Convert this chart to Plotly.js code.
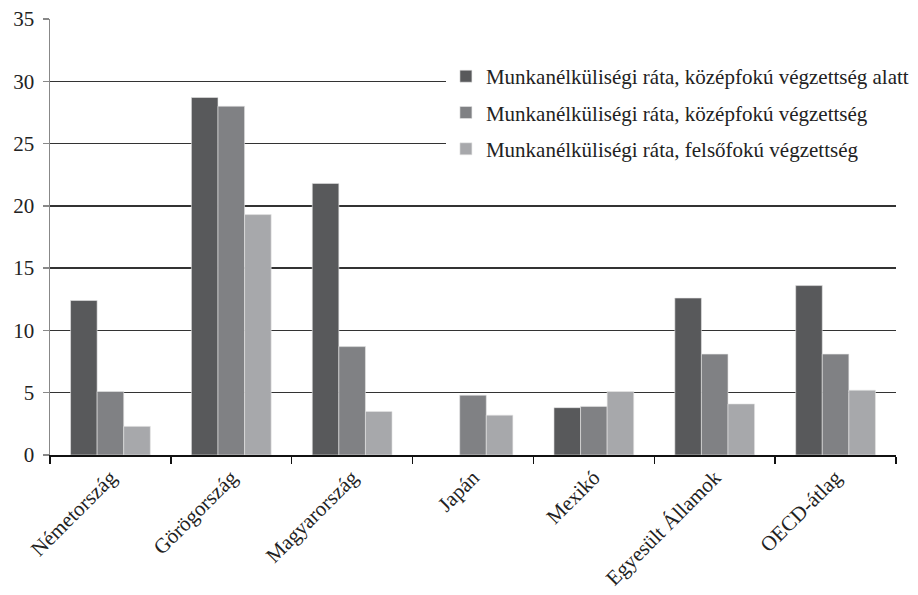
<!DOCTYPE html>
<html>
<head>
<meta charset="utf-8">
<script src="https://cdn.plot.ly/plotly-3.0.1.min.js"></script>
<style>
  html, body { margin: 0; padding: 0; background: #fff; }
  #chart { width: 918px; height: 595px; }
</style>
</head>
<body>
<div id="chart"></div>
<script>
// Országok (kategóriák)
const countries = ['Németország', 'Görögország', 'Magyarország', 'Japán', 'Mexikó', 'Egyesült Államok', 'OECD-átlag'];

// Munkanélküliségi ráták (%) végzettség szerint
const belowSecondary = [12.4, 28.7, 21.8, null, 3.8, 12.6, 13.6];
const secondary      = [5.1, 28.0, 8.7, 4.8, 3.9, 8.1, 8.1];
const tertiary       = [2.3, 19.3, 3.5, 3.2, 5.1, 4.1, 5.2];

const seriesNames = [
  'Munkanélküliségi ráta, középfokú végzettség alatt',
  'Munkanélküliségi ráta, középfokú végzettség',
  'Munkanélküliségi ráta, felsőfokú végzettség'
];

const yTicks = [0, 5, 10, 15, 20, 25, 30, 35];

const FONT = 'Liberation Serif';
const colors = ['#58595b', '#808184', '#a7a8ab'];
const values = [belowSecondary, secondary, tertiary];

const traces = values.map((v, i) => ({
  type: 'bar',
  name: seriesNames[i],
  x: countries,
  y: v,
  legendgroup: 'g' + i,
  marker: { color: colors[i], line: { color: 'rgba(230,230,230,0.6)', width: 1 } },
  hoverinfo: 'x+y'
}));

const layout = {
  width: 918,
  height: 595,
  margin: { l: 50, r: 4, t: 19, b: 140 },
  paper_bgcolor: '#ffffff',
  plot_bgcolor: '#ffffff',
  font: { family: FONT, size: 21, color: '#222' },
  barmode: 'group',
  bargap: 0.34,
  bargroupgap: 0,
  showlegend: true,
  legend: {
    x: 0.468, xanchor: 'left',
    y: 0.915, yanchor: 'top',
    bgcolor: '#ffffff',
    borderwidth: 0,
    traceorder: 'grouped',
    tracegroupgap: 6,
    font: { family: FONT, size: 21, color: '#222' }
  },
  xaxis: {
    type: 'category',
    tickson: 'boundaries',
    ticks: 'outside',
    ticklen: 7,
    tickwidth: 1.5,
    tickcolor: '#111',
    showline: true,
    linecolor: '#111',
    linewidth: 2,
    showgrid: false,
    tickangle: -45,
    tickfont: { family: FONT, size: 21, color: '#222' }
  },
  yaxis: {
    range: [0, 35],
    tickvals: yTicks,
    ticktext: yTicks.map(String),
    ticks: 'outside',
    ticklen: 6,
    tickwidth: 1.5,
    tickcolor: '#888',
    ticklabelstandoff: 4,
    showline: true,
    linecolor: '#888',
    linewidth: 1.5,
    showgrid: true,
    gridcolor: '#333',
    gridwidth: 1.3,
    zeroline: false,
    tickfont: { family: FONT, size: 21, color: '#222' }
  }
};

Plotly.newPlot('chart', traces, layout, { displayModeBar: false, staticPlot: true });
</script>
</body>
</html>
